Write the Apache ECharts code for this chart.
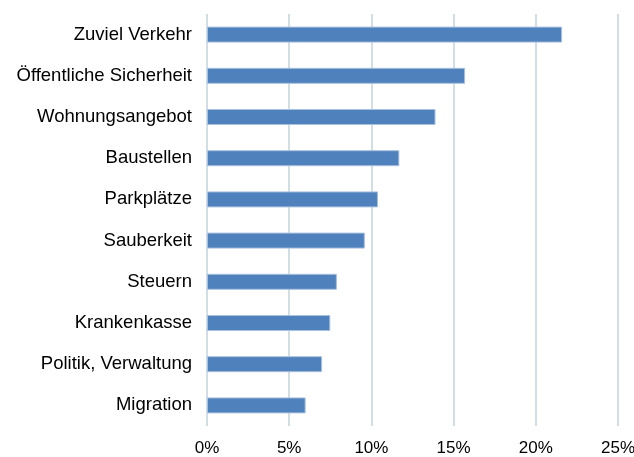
<!DOCTYPE html>
<html>
<head>
<meta charset="utf-8">
<script src="https://cdn.jsdelivr.net/npm/echarts@6/dist/echarts.min.js"></script>
<style>
  html, body { margin: 0; padding: 0; background: #fff; }
  #chart { width: 634px; height: 457px; }
</style>
</head>
<body>
<div id="chart"></div>
<script>
// Categories, top to bottom
const categories = [
    'Zuviel Verkehr',
    'Öffentliche Sicherheit',
    'Wohnungsangebot',
    'Baustellen',
    'Parkplätze',
    'Sauberkeit',
    'Steuern',
    'Krankenkasse',
    'Politik, Verwaltung',
    'Migration'
];

// Share of answers in percent
const shares = [21.6, 15.7, 13.9, 11.7, 10.4, 9.6, 7.9, 7.5, 7.0, 6.0];

// x axis ticks
const xTicks = [0, 5, 10, 15, 20, 25];

const chart = echarts.init(document.getElementById('chart'));

chart.setOption({
    animation: false,
    grid: { left: 207, right: 16, top: 14, bottom: 31, outerBoundsMode: 'none', containLabel: false },
    xAxis: {
        type: 'value',
        min: xTicks[0],
        max: xTicks[xTicks.length - 1],
        interval: xTicks[1] - xTicks[0],
        axisLine: { show: false },
        axisTick: { show: false },
        axisLabel: {
            formatter: '{value}%',
            color: '#000',
            fontFamily: 'Liberation Sans',
            fontSize: 17,
            margin: 14
        },
        splitLine: { lineStyle: { color: '#c3d3de', width: 1.5 } }
    },
    yAxis: {
        type: 'category',
        inverse: true,
        data: categories,
        axisLine: { show: false },
        axisTick: { show: false },
        axisLabel: {
            color: '#000',
            fontFamily: 'Liberation Sans',
            fontSize: 18.5,
            margin: 15
        }
    },
    series: [{
        type: 'bar',
        data: shares,
        barWidth: 16,
        itemStyle: {
            color: '#4f81bd',
            borderColor: '#a9c1de',
            borderWidth: 1
        }
    }]
});
</script>
</body>
</html>
